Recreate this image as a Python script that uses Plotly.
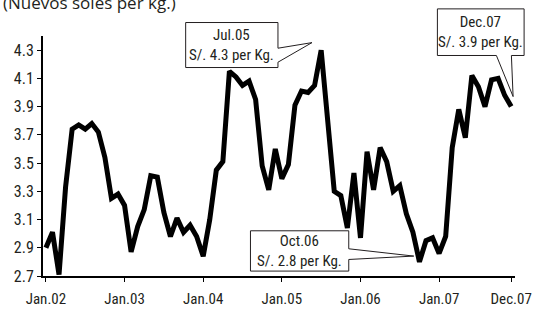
import plotly.graph_objects as go

# Monthly average price, Jan 2002 - Dec 2007 (nuevos soles per kg)
mon_names = ["Jan", "Feb", "Mar", "Apr", "May", "Jun",
             "Jul", "Aug", "Sep", "Oct", "Nov", "Dec"]
years = ["02", "03", "04", "05", "06", "07"]
months = [f"{m}.{y}" for y in years for m in mon_names]

prices = [
    2.90, 3.01, 2.71, 3.33, 3.74, 3.77, 3.74, 3.78, 3.72, 3.54, 3.25, 3.28,   # 2002
    3.20, 2.87, 3.05, 3.17, 3.41, 3.40, 3.15, 2.98, 3.11, 3.01, 3.06, 2.98,   # 2003
    2.84, 3.10, 3.45, 3.51, 4.15, 4.11, 4.05, 4.08, 3.95, 3.48, 3.31, 3.60,   # 2004
    3.39, 3.49, 3.91, 4.01, 4.00, 4.05, 4.30, 3.78, 3.30, 3.27, 3.04, 3.43,   # 2005
    2.97, 3.58, 3.31, 3.61, 3.51, 3.30, 3.34, 3.14, 3.01, 2.80, 2.95, 2.97,   # 2006
    2.86, 2.98, 3.61, 3.88, 3.68, 4.12, 4.04, 3.90, 4.09, 4.10, 3.98, 3.90,   # 2007
]

tick_labels = ["Jan.02", "Jan.03", "Jan.04", "Jan.05", "Jan.06", "Jan.07", "Dec.07"]
y_ticks = [2.7, 2.9, 3.1, 3.3, 3.5, 3.7, 3.9, 4.1, 4.3]

title_text = "(Nuevos soles per kg.)"

# callouts: (month label, value, caption)
callouts = [
    ("Jul.05", 4.30, "Jul.05<br>S/. 4.3 per Kg."),
    ("Oct.06", 2.80, "Oct.06<br>S/. 2.8 per Kg."),
    ("Dec.07", 3.90, "Dec.07<br>S/. 3.9 per Kg."),
]

INK = "#231f20"
NARROW = "Liberation Sans Narrow, Arial Narrow, Roboto Condensed, Roboto, sans-serif"

X_RANGE = [-0.446, 71.58]
Y_RANGE = [2.7, 4.4]

fig = go.Figure()
fig.add_trace(go.Scatter(
    x=months, y=prices, mode="lines",
    line=dict(color="black", width=5),
    hoverinfo="skip", showlegend=False,
))


def to_paper(label, value):
    i = months.index(label)
    px_ = (i - X_RANGE[0]) / (X_RANGE[1] - X_RANGE[0])
    py_ = (value - Y_RANGE[0]) / (Y_RANGE[1] - Y_RANGE[0])
    return px_, py_


# balloon outlines in pixels relative to the pointed-at value (y up)
balloon_paths = {
    "Jul.05": "M -135.5,27.6 L -43.2,27.6 L -43.2,1.9 L -9.2,7.5 L -43.2,-12.1 "
              "L -43.2,-17.4 L -135.5,-17.4 Z",
    "Oct.06": "M -169,31.1 L -70.7,31.1 L -70.7,13.1 L -5.7,5.8 L -70.7,2.4 "
              "L -70.7,-9.2 L -169,-9.2 Z",
    "Dec.07": "M -73.8,97.7 L 12.9,97.7 L 12.9,51.1 L 0.2,51.1 L 1.9,10 "
              "L -14.8,51.1 L -73.8,51.1 Z",
}
text_shift = {
    "Jul.05": (-89.4, 5.1),
    "Oct.06": (-119.9, 10.9),
    "Dec.07": (-30.5, 74.4),
}

for label, value, caption in callouts:
    ax_, ay_ = to_paper(label, value)
    fig.add_shape(
        type="path", xref="paper", yref="paper",
        xsizemode="pixel", ysizemode="pixel",
        xanchor=ax_, yanchor=ay_,
        path=balloon_paths[label],
        line=dict(color=INK, width=1), fillcolor="white", layer="above",
    )
    dx, dy = text_shift[label]
    fig.add_annotation(
        x=ax_, y=ay_, xref="paper", yref="paper",
        xshift=dx, yshift=dy, showarrow=False,
        text=caption, align="center", xanchor="center", yanchor="middle",
        font=dict(family=NARROW, size=15, color=INK),
    )

fig.add_annotation(
    x=-43 / 484, y=1 + 35 / 253, xref="paper", yref="paper",
    text=title_text, showarrow=False, xanchor="left", yanchor="middle",
    font=dict(family="Open Sans, sans-serif", size=17, color=INK),
)

fig.update_layout(
    width=544, height=320,
    margin=dict(l=43, r=17, t=36, b=31),
    paper_bgcolor="white", plot_bgcolor="white",
    font=dict(family=NARROW, size=16, color=INK),
    showlegend=False,
)
fig.update_xaxes(
    type="category", range=X_RANGE,
    tickvals=tick_labels, ticktext=tick_labels,
    showline=True, linecolor="black", linewidth=2,
    ticks="outside", ticklen=4, tickcolor="black", tickwidth=1,
    ticklabelstandoff=4, tickfont=dict(size=15),
    showgrid=False, zeroline=False,
)
fig.update_yaxes(
    range=Y_RANGE, tickvals=y_ticks, ticktext=[f"{v:.1f}" for v in y_ticks],
    showline=True, linecolor="black", linewidth=2,
    ticks="outside", ticklen=4, tickcolor="black", tickwidth=1,
    showgrid=False, zeroline=False,
)

fig.write_html("out.html")
